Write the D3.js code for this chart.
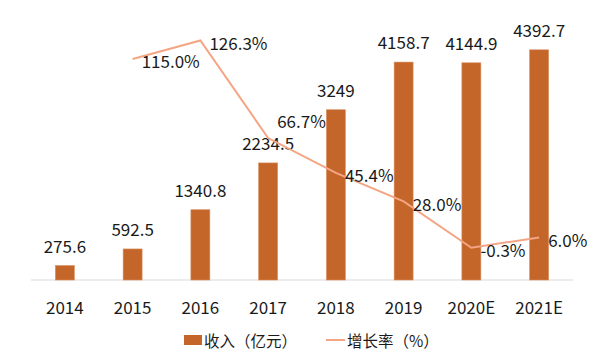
<!DOCTYPE html>
<html><head><meta charset="utf-8">
<script src="https://cdn.jsdelivr.net/npm/d3@7"></script>
<style>
body{margin:0;background:#fff;}
svg text{font-family:"Noto Sans CJK SC","Noto Sans",sans-serif;fill:#1a1a1a;}
</style></head>
<body><svg id="c" width="600" height="357"></svg>
<script>
const categories = ["2014","2015","2016","2017","2018","2019","2020E","2021E"];
const revenue = [275.6, 592.5, 1340.8, 2234.5, 3249, 4158.7, 4144.9, 4392.7];
const revenueLabels = ["275.6","592.5","1340.8","2234.5","3249","4158.7","4144.9","4392.7"];
const growth = [null, 115.0, 126.3, 66.7, 45.4, 28.0, -0.3, 6.0];
const growthLabels = ["", "115.0%", "126.3%", "66.7%", "45.4%", "28.0%", "-0.3%", "6.0%"];
const legendLabels = ["收入（亿元）", "增长率（%）"];

const barColor = "#C4652A", lineColor = "#F4A584";
const svg = d3.select("#c");
const x = d3.scaleBand().domain(categories).range([31, 573]).paddingInner(0.72).paddingOuter(0.36);
const y = d3.scaleLinear().domain([0, 5000]).range([280, 18]);
const y2 = d3.scaleLinear().domain([-20, 140]).range([280, 18]);

// axis
const xAxis = svg.append("g").attr("transform","translate(0,280)").call(d3.axisBottom(x).tickSize(0).tickPadding(0));
xAxis.select(".domain").attr("stroke","#D9D9D9").attr("stroke-width",1.2).attr("d","M31,0H573");
xAxis.selectAll("text").attr("font-size",17).attr("y",34).attr("dy",0)
  .style("font-family",'"Noto Sans CJK SC",sans-serif').attr("fill","#1a1a1a");

// bars
svg.append("g").selectAll("rect").data(revenue).join("rect")
  .attr("x",(d,i)=>x(categories[i])).attr("width",x.bandwidth())
  .attr("y",d=>y(d)).attr("height",d=>y(0)-y(d)).attr("fill",barColor)
  .attr("stroke","#D98E5E").attr("stroke-width",0.6);

svg.append("g").selectAll("text").data(revenue).join("text")
  .attr("x",(d,i)=>x(categories[i])+x.bandwidth()/2).attr("y",d=>y(d)-13)
  .attr("text-anchor","middle").attr("font-size",17).text((d,i)=>revenueLabels[i]);

// line
const pts = growth.map((g,i)=>({g,i})).filter(p=>p.g!==null);
const cx = i => x(categories[i]) + x.bandwidth()/2;
svg.append("path").datum(pts)
  .attr("d", d3.line().x(p=>cx(p.i)).y(p=>y2(p.g)))
  .attr("fill","none").attr("stroke",lineColor).attr("stroke-width",2);

const labelDy = {3:-20};
svg.append("g").selectAll("text").data(pts).join("text")
  .attr("x",p=>cx(p.i)+9).attr("y",p=>y2(p.g)+2+(labelDy[p.i]||0))
  .attr("dominant-baseline","central").attr("font-size",17).text(p=>growthLabels[p.i]);

// legend
const lg = svg.append("g");
lg.append("rect").attr("x",184).attr("y",335).attr("width",18).attr("height",10).attr("fill",barColor);
lg.append("text").attr("x",204).attr("y",340).attr("dominant-baseline","central").attr("font-size",15.5).text(legendLabels[0]);
lg.append("line").attr("x1",326).attr("x2",345).attr("y1",340).attr("y2",340).attr("stroke",lineColor).attr("stroke-width",2);
lg.append("text").attr("x",347).attr("y",340).attr("dominant-baseline","central").attr("font-size",15.5).text(legendLabels[1]);
</script></body></html>
